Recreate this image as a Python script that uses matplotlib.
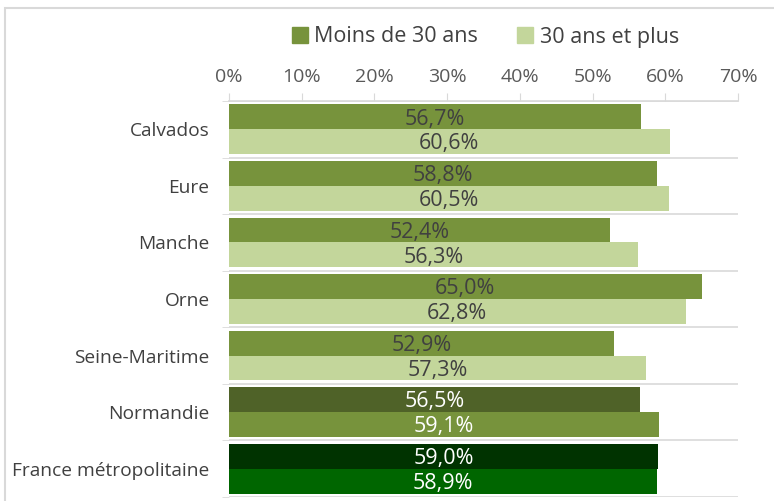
import matplotlib.pyplot as plt
from matplotlib.patches import Rectangle
import numpy as np

plt.rcParams['font.family'] = ['Open Sans', 'DejaVu Sans']

categories = ["Calvados", "Eure", "Manche", "Orne", "Seine-Maritime",
              "Normandie", "France métropolitaine"]
moins_30 = [56.7, 58.8, 52.4, 65.0, 52.9, 56.5, 59.0]
plus_30 = [60.6, 60.5, 56.3, 62.8, 57.3, 59.1, 58.9]

# colours: departments, then Normandie and France get their own shades
col_moins = ["#77933C"] * 5 + ["#4F6228", "#003300"]
col_plus = ["#C3D69B"] * 5 + ["#77933C", "#006600"]
lab_col = ["#404040"] * 5 + ["white", "white"]

fig = plt.figure(figsize=(7.74, 5.01), dpi=100)
ax = fig.add_axes([229 / 774, 4 / 501, 509 / 774, 396 / 501])

# outer frame like the spreadsheet chart area
fig.patches.append(Rectangle((5 / 774, -0.1), 1.2, (493 / 501) + 0.1,
                             transform=fig.transFigure, fill=False,
                             edgecolor="#D9D9D9", linewidth=1.5))

y = np.arange(len(categories))
h = 0.44
b1 = ax.barh(y - h / 2, moins_30, height=h, color=col_moins, label="Moins de 30 ans")
b2 = ax.barh(y + h / 2, plus_30, height=h, color=col_plus, label="30 ans et plus")

for i in range(len(categories)):
    ax.text(moins_30[i] / 2, y[i] - h / 2 + 0.04, f"{moins_30[i]:.1f}%".replace(".", ","),
            ha="center", va="center", fontsize=15.5, color=lab_col[i])
    ax.text(plus_30[i] / 2, y[i] + h / 2 + 0.04, f"{plus_30[i]:.1f}%".replace(".", ","),
            ha="center", va="center", fontsize=15.5, color=lab_col[i])

ax.set_xlim(0, 70)
ax.set_ylim(len(categories) - 0.5, -0.5)
ax.set_xticks(np.arange(0, 71, 10))
ax.set_xticklabels([f"{v}%" for v in range(0, 71, 10)])
ax.xaxis.tick_top()
ax.tick_params(axis="x", direction="out", length=6, color="#D9D9D9",
               labelsize=14, labelcolor="#595959", pad=5)
ax.set_yticks(y)
ax.set_yticklabels(categories)
ax.tick_params(axis="y", which="major", length=0, labelsize=13.8, labelcolor="#404040", pad=14)
ax.set_yticks(np.arange(-0.5, len(categories)), minor=True)
ax.tick_params(axis="y", which="minor", direction="out", length=5, color="#D9D9D9")
ax.grid(axis="y", which="minor", color="#D9D9D9", linewidth=1.2)
ax.set_axisbelow(True)

for s in ["left", "right", "bottom"]:
    ax.spines[s].set_visible(False)
ax.spines["top"].set_color("#D9D9D9")
ax.spines["top"].set_linewidth(1.2)

leg = fig.legend(handles=[b1.patches[0], b2.patches[0]],
                 labels=["Moins de 30 ans", "30 ans et plus"],
                 loc="center", bbox_to_anchor=(0.627, 1 - 37 / 501), ncol=2,
                 frameon=False, fontsize=15.5, handlelength=0.75, handleheight=0.75,
                 handletextpad=0.3, columnspacing=1.8, labelcolor="#404040")
leg.legend_handles[0].set_color("#77933C")
leg.legend_handles[1].set_color("#C3D69B")

fig.savefig("out.png", dpi=100)
